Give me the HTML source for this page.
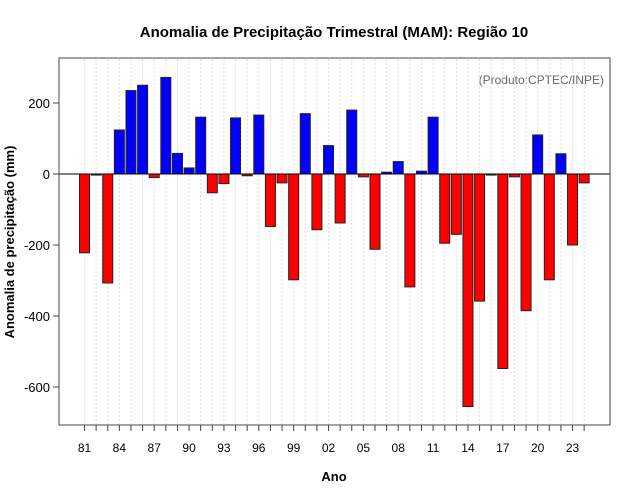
<!DOCTYPE html>
<html><head><meta charset="utf-8">
<style>
body{margin:0;background:#fff;}
svg{display:block;font-family:"Liberation Sans",sans-serif;}
</style></head>
<body>
<svg id="chart" width="640" height="500">
<text x="334" y="37" text-anchor="middle" font-size="15" font-weight="bold">Anomalia de Precipitação Trimestral (MAM): Região 10</text>
<text x="334" y="481" text-anchor="middle" font-size="13" font-weight="bold">Ano</text>
<text transform="translate(14,242) rotate(-90)" text-anchor="middle" font-size="13" font-weight="bold">Anomalia de precipitação (mm)</text>
<text x="604" y="84" text-anchor="end" font-size="12" fill="#666">(Produto:CPTEC/INPE)</text>
<g id="grid"></g><g id="bars"></g><g id="axes"></g>
<rect x="59" y="58" width="551" height="367" fill="none" stroke="#444"/>
</svg>
<script>
const years = ["81","82","83","84","85","86","87","88","89","90","91","92","93","94","95","96","97","98","99","00","01","02","03","04","05","06","07","08","09","10","11","12","13","14","15","16","17","18","19","20","21","22","23","24"];
const anomalies = [-222,-3,-307,124,235,250,-10,272,58,17,160,-53,-27,158,-5,166,-148,-25,-298,170,-157,80,-138,180,-8,-212,5,35,-318,8,160,-195,-170,-655,-358,-3,-548,-8,-385,110,-298,57,-200,-25];
const yTicks = [200,0,-200,-400,-600];
const ns="http://www.w3.org/2000/svg";
function xS(i){return 84.5+i*11.62;}
function yS(v){return 174-v*0.355;}
const grid=document.getElementById('grid'),bars=document.getElementById('bars'),axes=document.getElementById('axes');
function mk(tag,attrs,parent){const e=document.createElementNS(ns,tag);for(const k in attrs)e.setAttribute(k,attrs[k]);parent.appendChild(e);return e;}
years.forEach((y,i)=>{
  const g=mk('line',{x1:xS(i),x2:xS(i),y1:59,y2:424,stroke:'#ddd','stroke-dasharray':'2,2'},grid);
  
  
  const t=mk('line',{x1:xS(i),x2:xS(i),y1:425,y2:431,stroke:'#444'},axes);
  
  
  if(i%3===0){
    const l=mk('text',{x:xS(i),y:452,'text-anchor':'middle','font-size':12},axes);
    l.textContent=y;
    
    
  }
});
anomalies.forEach((v,i)=>{
  const y0=yS(0),y1=yS(v);
  const r=mk('rect',{x:xS(i)-5,y:Math.min(y0,y1),width:10,height:Math.max(Math.abs(y1-y0),0.5),fill:v>=0?'#0000ff':'#ff0000',stroke:'#222','stroke-width':1},bars);
  
  
});
const z=mk('line',{x1:59,x2:610,y1:yS(0),y2:yS(0),stroke:'#000'},axes);


yTicks.forEach(v=>{
  const t=mk('line',{x1:53,x2:59,y1:yS(v),y2:yS(v),stroke:'#444'},axes);
  
  
  const l=mk('text',{x:50,y:yS(v)+5,'text-anchor':'end','font-size':13},axes);
  l.textContent=v;
  
  
});
</script>
</body></html>
